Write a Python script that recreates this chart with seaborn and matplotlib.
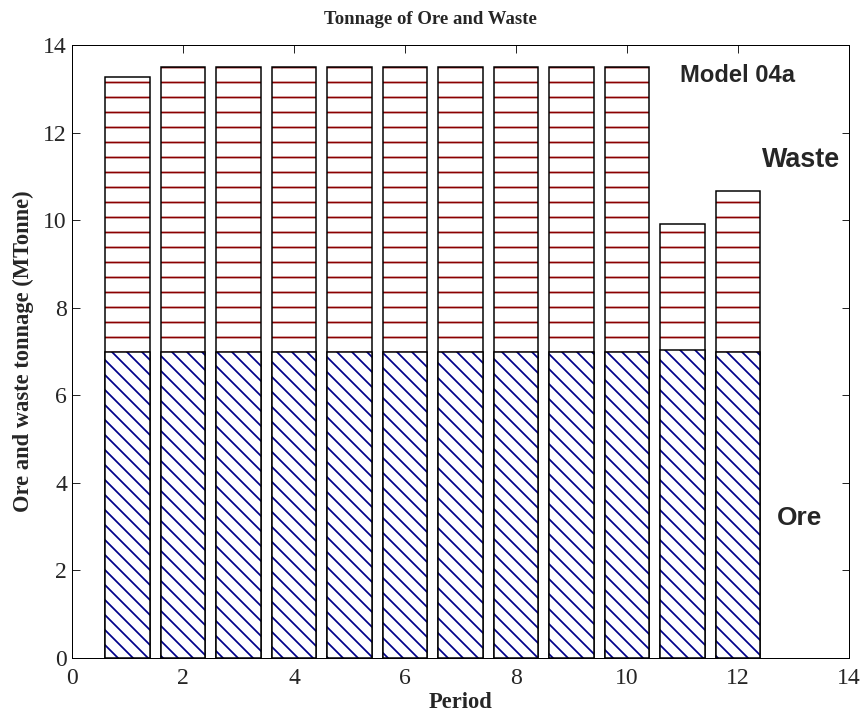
import matplotlib
matplotlib.use("Agg")
import matplotlib.pyplot as plt
import seaborn as sns
import pandas as pd

period = [1, 2, 3, 4, 5, 6, 7, 8, 9, 10, 11, 12]
ore = [7.0, 7.0, 7.0, 7.0, 7.0, 7.0, 7.0, 7.0, 7.0, 7.0, 7.04, 7.0]
waste = [6.27, 6.5, 6.5, 6.5, 6.5, 6.5, 6.5, 6.5, 6.5, 6.5, 2.88, 3.67]

df = pd.DataFrame({"period": period, "ore": ore, "waste": waste})
df["total"] = df["ore"] + df["waste"]

sns.set_style("white")
plt.rcParams["hatch.linewidth"] = 1.4
serif = ["Liberation Serif", "DejaVu Serif"]
sans = ["Liberation Sans", "DejaVu Sans"]

DPI = 90
fig = plt.figure(figsize=(864 / DPI, 715 / DPI), dpi=DPI)
ax = fig.add_axes([72 / 864, 1 - 658 / 715, (849 - 72) / 864, (658 - 45) / 715])

# Waste hatch over full stack height, then ore stack drawn on top of it
sns.barplot(data=df, x="period", y="total", native_scale=True, width=0.8,
            color="white", edgecolor="#8b0000", linewidth=0, hatch="-",
            errorbar=None, ax=ax, saturation=1)
sns.barplot(data=df, x="period", y="total", native_scale=True, width=0.8,
            fill=False, edgecolor="black", linewidth=1.2,
            errorbar=None, ax=ax)
sns.barplot(data=df, x="period", y="ore", native_scale=True, width=0.8,
            color="white", edgecolor="#00008b", linewidth=0, hatch="\\\\",
            errorbar=None, ax=ax, saturation=1)
sns.barplot(data=df, x="period", y="ore", native_scale=True, width=0.8,
            fill=False, edgecolor="black", linewidth=1.2,
            errorbar=None, ax=ax)

ax.set_xlim(0, 14)
ax.set_ylim(0, 14)
ticks = list(range(0, 15, 2))
ax.set_xticks(ticks)
ax.set_yticks(ticks)
ax.set_xticklabels([str(v) for v in ticks], family=serif, fontsize=19)
ax.set_yticklabels([str(v) for v in ticks], family=serif, fontsize=19)
ax.tick_params(direction="in", length=6, width=0.8, top=True, right=True,
               bottom=True, left=True)
ax.tick_params(axis="x", pad=8)
ax.tick_params(axis="y", pad=4)
for s in ax.spines.values():
    s.set_visible(True)
    s.set_color("black")
    s.set_linewidth(0.8)

ax.set_title("Tonnage of Ore and Waste", family=serif, fontweight="bold",
             fontsize=15, pad=17, x=0.461)
ax.set_xlabel("Period", family=serif, fontweight="bold", fontsize=18, labelpad=2)
ax.set_ylabel("Ore and waste tonnage (MTonne)", family=serif, fontweight="bold",
              fontsize=18, labelpad=7)

ax.text(10.95, 13.3, "Model 04a", family=sans, fontweight="bold", fontsize=19,
        va="center", ha="left")
ax.text(12.43, 11.37, "Waste", family=sans, fontweight="bold", fontsize=21.5,
        va="center", ha="left")
ax.text(12.7, 3.2, "Ore", family=sans, fontweight="bold", fontsize=21,
        va="center", ha="left")

fig.savefig("out.png", dpi=DPI)
